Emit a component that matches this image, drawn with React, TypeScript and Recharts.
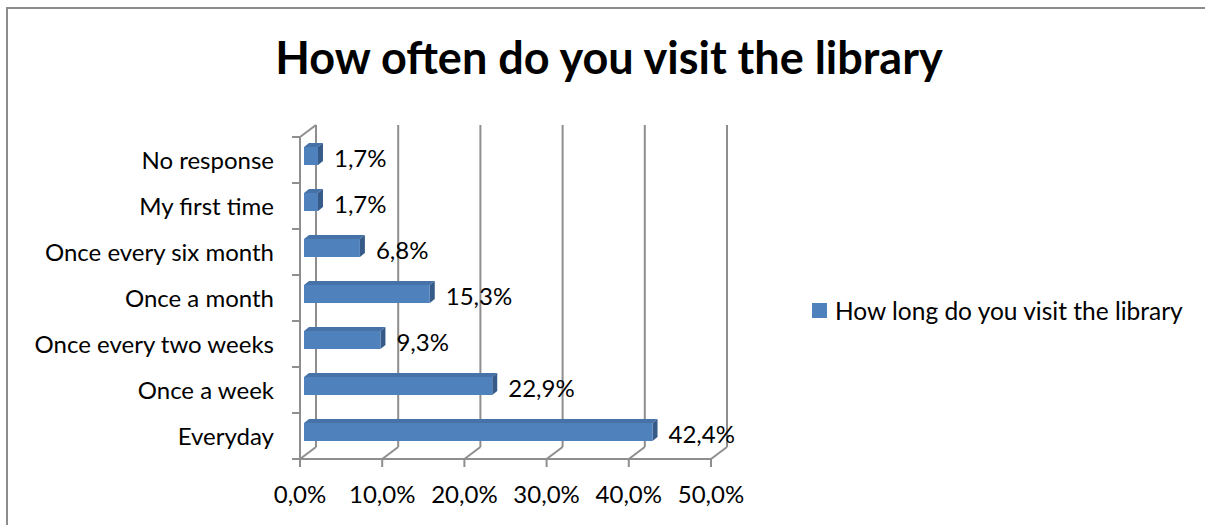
import { Bar, BarChart, CartesianGrid, LabelList, XAxis, YAxis } from 'recharts';

const categories = [
  'No response',
  'My first time',
  'Once every six month',
  'Once a month',
  'Once every two weeks',
  'Once a week',
  'Everyday',
];
const shares = [1.7, 1.7, 6.8, 15.3, 9.3, 22.9, 42.4];
const xTicks = [0, 10, 20, 30, 40, 50];
const seriesName = 'How long do you visit the library';
const title = 'How often do you visit the library';

const data = categories.map((name, i) => ({ name, value: shares[i] }));

const FONT = 'Lato, "Open Sans", sans-serif';
const GRID = '#8e8e8e';
// 3d depth of the back wall and of the bars
const WALL_DX = 16;
const WALL_DY = -12;
const BAR_OX = 4;
const BAR_OY = -4;
const BAR_DX = 5;
const BAR_DY = -4;

const pct = (v: number) => v.toFixed(1).replace('.', ',') + '%';

function Bar3D(props: any) {
  const { x, y, width, height } = props;
  const x0 = x + BAR_OX;
  const y0 = y + BAR_OY;
  const x1 = x0 + width;
  const y1 = y0 + height;
  return (
    <g>
      <polygon
        points={`${x0},${y0} ${x0 + BAR_DX},${y0 + BAR_DY} ${x1 + BAR_DX},${y0 + BAR_DY} ${x1},${y0}`}
        fill='#4672a8'
      />
      <polygon
        points={`${x1},${y0} ${x1 + BAR_DX},${y0 + BAR_DY} ${x1 + BAR_DX},${y1 + BAR_DY} ${x1},${y1}`}
        fill='#365b89'
      />
      <rect x={x0} y={y0} width={width} height={height} fill='#4f81bd' />
    </g>
  );
}

function BarLabel(props: any) {
  const { x, y, width, height, value } = props;
  return (
    <text
      x={x + width + BAR_OX + 16}
      y={y + height / 2 + BAR_OY + 1}
      dominantBaseline='central'
      fontFamily={FONT}
      fontSize={24}
      fill='#000'
    >
      {pct(value)}
    </text>
  );
}

function App() {
  const n = categories.length;
  return (
    <div
      style={{
        position: 'absolute',
        left: 0,
        top: 0,
        width: 1205,
        height: 525,
        background: '#fff',
        overflow: 'hidden',
      }}
    >
      <div
        style={{
          position: 'absolute',
          left: 6,
          top: 7,
          width: 1300,
          height: 600,
          borderLeft: '2px solid #8c8c8c',
          borderTop: '2px solid #8c8c8c',
        }}
      />
      <div
        style={{
          position: 'absolute',
          left: 0,
          width: 1218,
          top: 30,
          textAlign: 'center',
          fontFamily: FONT,
          fontWeight: 'bold',
          fontSize: 45,
          color: '#000',
        }}
      >
        {title}
      </div>
      <div
        style={{
          position: 'absolute',
          left: 812,
          top: 296,
          display: 'flex',
          alignItems: 'center',
          fontFamily: FONT,
          fontSize: 24.5,
          color: '#000',
        }}
      >
        <span style={{ display: 'inline-block', width: 15, height: 15, background: '#4f81bd', marginRight: 8 }} />
        {seriesName}
      </div>
      <div style={{ position: 'absolute', left: 0, top: 0 }}>
        <BarChart
          width={1205}
          height={525}
          data={data}
          layout='vertical'
          margin={{ top: 137, right: 494, left: 10, bottom: 26 }}
        >
          <CartesianGrid
            verticalValues={xTicks}
            horizontalCoordinatesGenerator={({ offset }: any) =>
              Array.from({ length: n + 1 }, (_, i) => offset.top + (i * offset.height) / n)
            }
            vertical={(p: any) => (
              <g key={p.key}>
                <line
                  x1={p.x1 + WALL_DX}
                  y1={p.y1 + WALL_DY}
                  x2={p.x2 + WALL_DX}
                  y2={p.y2 + WALL_DY}
                  stroke={GRID}
                  strokeWidth={2}
                />
                <line
                  x1={p.x2}
                  y1={p.y2}
                  x2={p.x2 + WALL_DX}
                  y2={p.y2 + WALL_DY}
                  stroke={GRID}
                  strokeWidth={2}
                />
              </g>
            )}
            horizontal={(p: any) => (
              <g key={p.key}>
                <line x1={p.x1 - 8} y1={p.y1} x2={p.x1} y2={p.y1} stroke={GRID} strokeWidth={2} />
                {p.index === 0 && (
                  <line
                    x1={p.x1}
                    y1={p.y1}
                    x2={p.x1 + WALL_DX}
                    y2={p.y1 + WALL_DY}
                    stroke={GRID}
                    strokeWidth={2}
                  />
                )}
              </g>
            )}
          />
          <XAxis
            type='number'
            domain={[0, 50]}
            ticks={xTicks}
            interval={0}
            height={40}
            tickSize={8}
            tickMargin={19}
            axisLine={{ stroke: GRID, strokeWidth: 2 }}
            tickLine={{ stroke: GRID, strokeWidth: 2 }}
            tickFormatter={(v: number) => pct(v)}
            tick={{ fill: '#000', fontFamily: FONT, fontSize: 24 }}
          />
          <YAxis
            type='category'
            dataKey='name'
            width={290}
            tickLine={false}
            tickMargin={20}
            axisLine={{ stroke: GRID, strokeWidth: 2 }}
            tick={{ fill: '#000', fontFamily: FONT, fontSize: 24 }}
          />
          <Bar dataKey='value' barSize={18} shape={<Bar3D />} isAnimationActive={false}>
            <LabelList dataKey='value' content={<BarLabel />} />
          </Bar>
        </BarChart>
      </div>
    </div>
  );
}

export default App;
